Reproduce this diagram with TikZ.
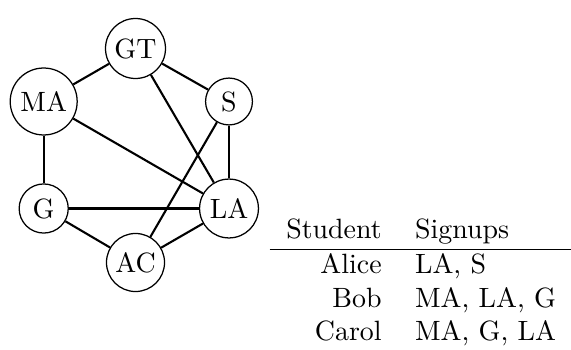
\documentclass[tikz,border=0pt]{standalone}
\begin{document}
\begin{tikzpicture}[x=0.3584pt,y=-0.3584pt,
  every node/.style={font=\normalsize},
  course/.style={circle,draw,line width=0.45pt,inner sep=0pt},
  edge/.style={line width=0.75pt}]
\useasboundingbox (0,0) rectangle (571,350);
\node[course,minimum size=21.5pt] (GT) at (135.5,48.5) {GT};
\node[course,minimum size=24.0pt] (MA) at (43.7,101.5) {MA};
\node[course,minimum size=16.8pt] (S)  at (229,101.5) {S};
\node[course,minimum size=17.6pt] (G)  at (43.7,208.5) {G};
\node[course,minimum size=21.1pt] (LA) at (229,208.5) {LA};
\node[course,minimum size=20.8pt] (AC) at (135.5,262.5) {AC};
\draw[edge] (GT) -- (MA);
\draw[edge] (GT) -- (S);
\draw[edge] (GT) -- (LA);
\draw[edge] (MA) -- (G);
\draw[edge] (MA) -- (LA);
\draw[edge] (S) -- (LA);
\draw[edge] (S) -- (AC);
\draw[edge] (G) -- (LA);
\draw[edge] (G) -- (AC);
\draw[edge] (AC) -- (LA);
\node[inner sep=0pt,anchor=north west] (tbl) at (269,215) {%
  \begin{tabular}{rl}
  Student & Signups \\ \hline
  Alice & LA, S \\
  Bob & MA, LA, G \\
  Carol & MA, G, LA
  \end{tabular}};
\end{tikzpicture}
\end{document}
